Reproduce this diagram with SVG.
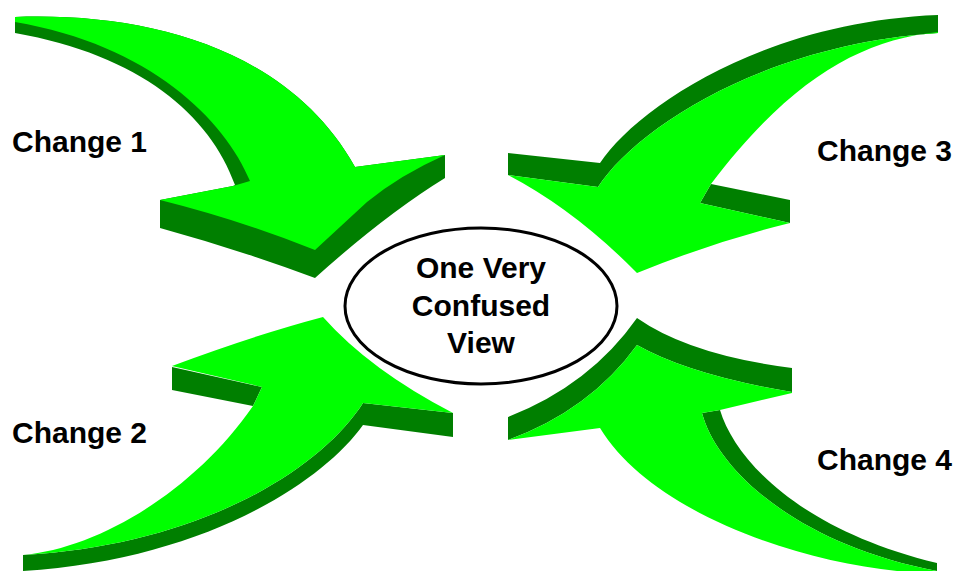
<svg xmlns="http://www.w3.org/2000/svg" width="957" height="571" viewBox="0 0 957 571">
<style>
.lt{fill:#00FF00;}
.dk{fill:#007F00;}
.lbl{font-family:"Liberation Sans",Arial,sans-serif;font-weight:bold;font-size:30px;fill:#000;}
.ctr{font-family:"Liberation Sans",Arial,sans-serif;font-weight:bold;font-size:30px;fill:#000;text-anchor:middle;}
</style>
<rect width="957" height="571" fill="#fff"/>
<g id="connectors">
  <g id="arrow1">
    <path class="dk" d="M15,17 C150,12 290,50 355,167 L445,155 L445,178 Q385,215 315,278 Q240,250 160,228 L160,200 L233,186 L235,185 C210,115 140,55 15,33 Z"/>
    <path class="lt" d="M15,17 C150,12 290,50 355,167 L445,155 Q400,175 367,202 L315,250 Q240,220 160,200 L233,186 L250,181 C225,120 150,45 15,22 Z"/>
  </g>
  <g id="arrow3">
    <path class="dk" d="M938,15 C760,22 635,110 600,163 L508,153 L508,175 L598,187 C635,130 760,45 938,33 Z"/>
    <path class="dk" d="M711,184 L790,200 L790,223 L700,203 Z"/>
    <path class="lt" d="M938,32 C860,40 790,80 711,184 L700,203 L790,223 Q713,242 637,273 Q575,210 508,175 L598,187 C635,130 760,45 938,33 Z"/>
  </g>
  <g id="arrow2">
    <path class="dk" d="M172,367 L262,387 L253,406 L172,390 Z"/>
    <path class="dk" d="M363,403 L453,413 L453,437 L363,425 C320,485 200,560 23,571 L23,555 C200,545 320,470 363,403 Z"/>
    <path class="lt" d="M23,555 C100,548 195,490 253,406 L262,387 L172,366 Q255,335 323,317 Q370,370 453,413 L363,403 C320,470 200,545 23,555 Z"/>
  </g>
  <g id="arrow4">
    <path class="dk" d="M637,318 Q690,355 792,368 L792,392 Q690,375 637,345 Q590,410 508,440 L508,417 Q590,385 637,318 Z"/>
    <path class="dk" d="M702,413 L720,410 C735,460 800,530 937,563 L937,571 C800,545 718,472 702,413 Z"/>
    <path class="lt" d="M637,345 Q690,375 792,392 L792,393 L720,410 L702,413 C718,472 800,545 937,571 L897,571 C790,560 650,510 600,428 L508,440 Q590,410 637,345 Z"/>
  </g>
</g>
<g id="center">
  <ellipse cx="481" cy="306" rx="136" ry="78" fill="#fff" stroke="#000" stroke-width="3"/>
  <text class="ctr" x="481" y="278">One Very</text>
  <text class="ctr" x="481" y="316">Confused</text>
  <text class="ctr" x="481" y="353">View</text>
</g>
<g id="change1"><text class="lbl" x="12" y="152">Change 1</text></g>
<g id="change2"><text class="lbl" x="12" y="443">Change 2</text></g>
<g id="change3"><text class="lbl" x="817" y="161">Change 3</text></g>
<g id="change4"><text class="lbl" x="817" y="470">Change 4</text></g>
</svg>
